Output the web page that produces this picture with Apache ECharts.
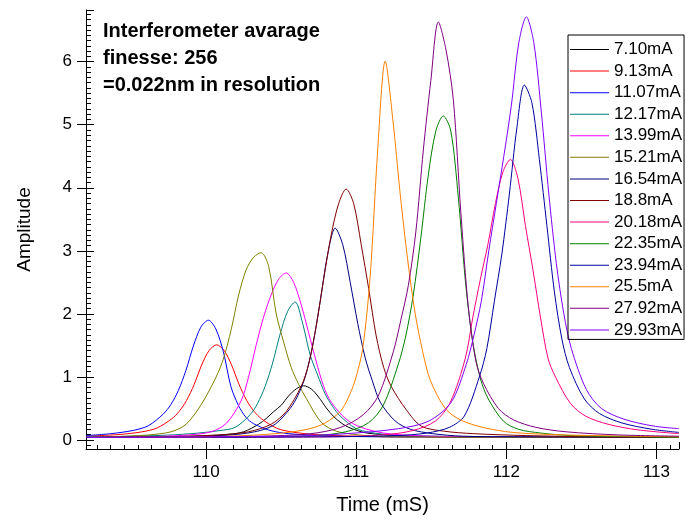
<!DOCTYPE html>
<html><head><meta charset="utf-8">
<script src="https://cdn.jsdelivr.net/npm/echarts@6/dist/echarts.min.js"></script>
<style>html,body{margin:0;padding:0;background:#fff}#c{width:685px;height:520px}</style>
</head><body><div id="c"></div>
<script>
const seriesNames = ['7.10mA','9.13mA','11.07mA','12.17mA','13.99mA','15.21mA','16.54mA','18.8mA','20.18mA','22.35mA','23.94mA','25.5mA','27.92mA','29.93mA'];
const seriesColors = ['#000000','#ff0000','#0000ff','#008080','#ff00ff','#808000','#000080','#800000','#ff0080','#008000','#0000a0','#ff8000','#800080','#8000ff'];
const annotationLines = ['Interferometer avarage','finesse: 256','=0.022nm in resolution'];
const xTitle = 'Time (mS)';
const yTitle = 'Amplitude';

const d710 = [[109.2,.04],[109.45,.046],[109.8,.054],[110.0,.066],[110.15,.09],[110.25,.13],[110.35,.25],[110.4,.34],[110.45,.45],[110.5,.55],[110.55,.70],[110.6,.81],[110.65,.86],[110.7,.81],[110.75,.68],[110.8,.51],[110.85,.37],[110.9,.27],[110.95,.2],[111.05,.12],[111.15,.09],[111.3,.066],[111.5,.054],[111.85,.046],[113.15,.04]];
const d913 = [[109.2,.06],[109.42,.087],[109.57,.128],[109.67,.187],[109.77,.334],[109.82,.452],[109.87,.628],[109.92,.878],[109.97,1.187],[110.02,1.42],[110.07,1.51],[110.12,1.42],[110.17,1.187],[110.22,.878],[110.27,.628],[110.32,.452],[110.37,.334],[110.47,.187],[110.57,.128],[110.72,.087],[110.92,.065],[111.27,.05],[113.15,.04]];
const d1107 = [[109.2,.07],[109.365,.10],[109.515,.152],[109.615,.226],[109.715,.412],[109.765,.561],[109.815,.784],[109.865,1.10],[109.915,1.49],[109.965,1.79],[110.015,1.90],[110.065,1.76],[110.115,1.40],[110.165,.85],[110.215,.55],[110.265,.36],[110.315,.26],[110.415,.16],[110.515,.11],[110.665,.08],[110.865,.06],[111.215,.05],[113.15,.04]];
const d1217 = [[109.2,.05],[109.393,.055],[109.743,.077],[109.943,.109],[110.093,.15],[110.193,.2],[110.293,.40],[110.343,.58],[110.393,.85],[110.443,1.22],[110.493,1.68],[110.543,2.04],[110.593,2.19],[110.643,1.85],[110.693,1.35],[110.743,1.03],[110.793,.73],[110.843,.53],[110.893,.38],[110.993,.19],[111.093,.12],[111.243,.08],[111.443,.065],[111.793,.05],[113.15,.04]];
const d1399 = [[109.2,.04],[109.6,.05],[109.883,.08],[110.033,.13],[110.133,.26],[110.233,.62],[110.283,1.0],[110.333,1.5],[110.383,1.95],[110.433,2.3],[110.483,2.55],[110.533,2.65],[110.583,2.5],[110.633,2.15],[110.683,1.7],[110.733,1.25],[110.783,.85],[110.833,.6],[110.933,.33],[111.033,.2],[111.183,.11],[111.383,.07],[111.8,.05],[113.15,.04]];
const d1521 = [[109.2,.04],[109.367,.05],[109.617,.08],[109.767,.13],[109.867,.25],[109.967,.56],[110.067,1.0],[110.117,1.3],[110.167,1.75],[110.217,2.3],[110.267,2.7],[110.317,2.9],[110.367,2.97],[110.417,2.75],[110.467,2.0],[110.517,1.55],[110.567,1.15],[110.617,.88],[110.667,.66],[110.767,.28],[110.867,.14],[111.017,.08],[111.217,.05],[113.15,.04]];
const d1654 = [[109.2,.04],[109.7,.05],[110.01,.06],[110.21,.09],[110.36,.15],[110.46,.25],[110.56,.5],[110.61,.7],[110.66,1.0],[110.71,1.5],[110.76,2.2],[110.81,2.95],[110.86,3.36],[110.91,3.1],[110.96,2.5],[111.01,1.85],[111.06,1.3],[111.11,.92],[111.16,.6],[111.26,.3],[111.36,.17],[111.51,.1],[111.71,.06],[112.1,.05],[113.15,.04]];
const d1880 = [[109.2,.04],[109.7,.05],[110.083,.08],[110.283,.13],[110.433,.25],[110.533,.45],[110.633,.85],[110.683,1.2],[110.733,1.8],[110.783,2.55],[110.833,3.25],[110.883,3.75],[110.933,3.98],[110.983,3.75],[111.033,3.1],[111.083,2.4],[111.133,1.65],[111.183,1.15],[111.233,.85],[111.333,.48],[111.433,.22],[111.583,.14],[111.783,.1],[112.133,.07],[112.6,.05],[113.15,.04]];
const d2018 = [[109.2,.04],[110.8,.05],[111.177,.08],[111.377,.15],[111.527,.3],[111.627,.6],[111.727,1.3],[111.777,1.95],[111.827,2.55],[111.877,3.1],[111.927,3.75],[111.977,4.25],[112.027,4.45],[112.077,4.15],[112.127,3.4],[112.177,2.7],[112.227,1.95],[112.277,1.3],[112.327,1.0],[112.427,.58],[112.527,.38],[112.677,.25],[112.877,.16],[113.15,.1]];
const d2235 = [[109.2,.04],[110.3,.05],[110.73,.07],[110.93,.13],[111.08,.27],[111.18,.55],[111.28,1.2],[111.33,1.65],[111.38,2.3],[111.43,3.2],[111.48,4.2],[111.53,4.9],[111.58,5.14],[111.63,4.9],[111.68,3.85],[111.73,2.45],[111.78,1.5],[111.83,.95],[111.88,.65],[111.98,.3],[112.08,.17],[112.23,.11],[112.43,.07],[112.9,.05],[113.15,.04]];
const d2394 = [[109.2,.04],[110.8,.05],[111.27,.07],[111.47,.11],[111.62,.2],[111.72,.38],[111.82,1.0],[111.87,1.45],[111.92,2.2],[111.97,2.95],[112.02,3.9],[112.07,4.95],[112.12,5.63],[112.17,5.35],[112.22,4.45],[112.27,3.4],[112.32,2.35],[112.37,1.6],[112.42,1.15],[112.52,.65],[112.62,.42],[112.77,.27],[112.97,.17],[113.15,.12]];
const d2550 = [[109.2,.04],[109.993,.05],[110.343,.08],[110.543,.12],[110.693,.18],[110.793,.27],[110.893,.45],[110.943,.65],[110.993,.95],[111.043,1.45],[111.093,2.6],[111.143,4.6],[111.193,6.01],[111.243,5.1],[111.293,3.9],[111.343,2.85],[111.393,2.0],[111.443,1.4],[111.493,.95],[111.593,.5],[111.693,.32],[111.843,.2],[112.043,.12],[112.393,.08],[113.15,.05]];
const d2792 = [[109.2,.04],[110.347,.06],[110.697,.1],[110.897,.2],[111.047,.4],[111.147,.7],[111.247,1.4],[111.297,1.9],[111.347,2.45],[111.397,3.3],[111.447,4.6],[111.497,5.7],[111.547,6.63],[111.597,6.2],[111.647,5.39],[111.697,3.6],[111.747,2.1],[111.797,1.25],[111.847,.9],[111.947,.5],[112.047,.32],[112.197,.2],[112.397,.13],[112.747,.08],[113.15,.06]];
const d2993 = [[109.2,.04],[110.533,.06],[110.933,.1],[111.283,.18],[111.483,.3],[111.633,.6],[111.733,1.2],[111.783,1.65],[111.833,2.2],[111.883,3.0],[111.933,3.75],[111.983,4.5],[112.033,5.3],[112.083,6.3],[112.133,6.71],[112.183,6.3],[112.233,5.2],[112.283,3.9],[112.333,2.8],[112.383,2.0],[112.433,1.45],[112.533,.8],[112.633,.5],[112.783,.33],[112.983,.22],[113.15,.18]];

const seriesData = [d710,d913,d1107,d1217,d1399,d1521,d1654,d1880,d2018,d2235,d2394,d2550,d2792,d2993];

const font = '"Liberation Sans", Arial, Helvetica, sans-serif';
const xMin = 109.2, xMax = 113.15, yMin = -0.143, yMax = 6.82;
const chart = echarts.init(document.getElementById('c'), null, {renderer:'canvas'});
const black = '#000';
const option = {
  animation: false,
  backgroundColor: '#fff',
  grid: {left: 86, right: 6, top: 10, bottom: 71},
  xAxis: [{
    type: 'value', min: xMin, max: xMax,
    axisLine: {onZero: false, lineStyle: {color: black, width: 1}},
    axisTick: {length: 10, lineStyle: {color: black}},
    splitLine: {show: false},
    axisLabel: {margin: 15, fontSize: 17, color: black, fontFamily: font, showMinLabel: false, showMaxLabel: false},
    name: xTitle, nameLocation: 'middle', nameGap: 46,
    nameTextStyle: {fontSize: 20, color: black, fontFamily: font}
  }, {
    type: 'value', min: xMin, max: xMax, position: 'bottom',
    axisLine: {show: true, onZero: false, lineStyle: {color: 'rgba(0,0,0,0)'}},
    axisTick: {show: true, inside: true, length: 7, lineStyle: {color: black}},
    minorTick: {show: true, splitNumber: 11, length: 4, lineStyle: {color: black}},
    axisLabel: {show: false}, splitLine: {show: false}
  }],
  yAxis: [{
    type: 'value', min: yMin, max: yMax,
    axisLine: {show: true, lineStyle: {color: black, width: 1}},
    axisTick: {show: true, length: 9, lineStyle: {color: black}},
    splitLine: {show: false},
    axisLabel: {margin: 14, fontSize: 17, color: black, fontFamily: font, showMinLabel: false, showMaxLabel: false},
    name: yTitle, nameLocation: 'middle', nameGap: 52, nameRotate: 90,
    nameTextStyle: {fontSize: 19, color: black, fontFamily: font}
  }, {
    type: 'value', min: yMin, max: yMax, position: 'left',
    axisLine: {show: true, lineStyle: {color: 'rgba(0,0,0,0)'}},
    axisTick: {show: true, inside: true, length: 8, lineStyle: {color: black}},
    minorTick: {show: true, splitNumber: 12, length: 5, lineStyle: {color: black}},
    axisLabel: {show: false}, splitLine: {show: false}
  }],
  legend: {
    orient: 'vertical', left: 568, top: 35,
    padding: [6, 2, 1, 2], itemGap: 4.57, itemWidth: 39, itemHeight: 1,
    icon: 'rect', borderColor: black, borderWidth: 1, borderRadius: 0,
    selectedMode: false,
    textStyle: {fontSize: 17, fontFamily: font, color: black, lineHeight: 17},
    data: seriesNames
  },
  graphic: [{
    type: 'text', left: 103, top: 18, z: 100,
    style: {text: annotationLines.join('\n'), fontSize: 20, fontWeight: 'bold', fontFamily: font, lineHeight: 27, fill: black}
  }],
  series: seriesNames.map((n, i) => ({
    name: n, type: 'line', xAxisIndex: 0, yAxisIndex: 0,
    data: seriesData[i], showSymbol: false, symbol: 'none',
    smooth: 0.3,
    lineStyle: {color: seriesColors[i], width: 1},
    itemStyle: {color: seriesColors[i]}
  })).concat([{
    name: '_axisholder', type: 'line', xAxisIndex: 1, yAxisIndex: 1,
    data: [[xMin, yMin], [xMax, yMax]], showSymbol: false, symbol: 'none', silent: true,
    lineStyle: {opacity: 0}, tooltip: {show: false}
  }])
};
chart.setOption(option);
</script>
</body></html>
